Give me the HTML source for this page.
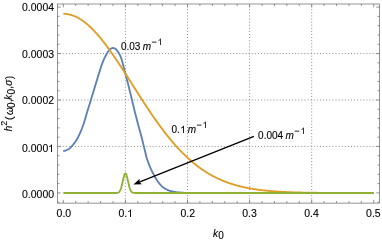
<!DOCTYPE html><html><head><meta charset="utf-8"><title>plot</title><style>html,body{margin:0;padding:0;background:#fff;width:382px;height:240px;overflow:hidden;font-family:"Liberation Sans",sans-serif}</style></head><body><svg width="382" height="240" viewBox="0 0 382 240" style="position:absolute;left:0;top:0">
<rect width="382" height="240" fill="#fff"/>
<g stroke="#666" stroke-opacity="0.72" stroke-width="1" stroke-dasharray="1.05 2.05" stroke-dashoffset="1.05" fill="none"><line x1="125.40" y1="4.0" x2="125.40" y2="203.1"/><line x1="187.50" y1="4.0" x2="187.50" y2="203.1"/><line x1="249.60" y1="4.0" x2="249.60" y2="203.1"/><line x1="311.70" y1="4.0" x2="311.70" y2="203.1"/><line x1="57.5" y1="146.45" x2="379.5" y2="146.45"/><line x1="57.5" y1="100.00" x2="379.5" y2="100.00"/><line x1="57.5" y1="53.55" x2="379.5" y2="53.55"/></g>
<g fill="none" stroke-width="1.85" stroke-linejoin="round" stroke-linecap="butt">
<path d="M63.30,151.00 L63.69,150.98 L64.08,150.93 L64.47,150.86 L64.85,150.76 L65.24,150.65 L65.63,150.51 L66.02,150.36 L66.41,150.20 L66.80,150.02 L67.19,149.83 L67.57,149.64 L67.96,149.44 L68.35,149.23 L68.74,149.02 L69.13,148.77 L69.52,148.48 L69.91,148.16 L70.29,147.79 L70.68,147.41 L71.07,147.00 L71.46,146.57 L71.85,146.13 L72.24,145.69 L72.63,145.24 L73.02,144.79 L73.40,144.33 L73.79,143.85 L74.18,143.35 L74.57,142.83 L74.96,142.29 L75.35,141.73 L75.74,141.15 L76.12,140.55 L76.51,139.94 L76.90,139.30 L77.29,138.63 L77.68,137.93 L78.07,137.20 L78.46,136.44 L78.84,135.65 L79.23,134.83 L79.62,133.99 L80.01,133.12 L80.40,132.24 L80.79,131.34 L81.18,130.42 L81.56,129.47 L81.95,128.48 L82.34,127.46 L82.73,126.40 L83.12,125.31 L83.51,124.18 L83.90,123.03 L84.28,121.83 L84.67,120.55 L85.06,119.20 L85.45,117.81 L85.84,116.45 L86.23,115.14 L86.62,113.85 L87.01,112.57 L87.39,111.30 L87.78,110.04 L88.17,108.78 L88.56,107.51 L88.95,106.24 L89.34,104.97 L89.73,103.69 L90.11,102.42 L90.50,101.15 L90.89,99.87 L91.28,98.60 L91.67,97.33 L92.06,96.06 L92.45,94.79 L92.83,93.52 L93.22,92.25 L93.61,90.98 L94.00,89.71 L94.39,88.45 L94.78,87.18 L95.17,85.91 L95.55,84.64 L95.94,83.37 L96.33,82.10 L96.72,80.83 L97.11,79.56 L97.50,78.29 L97.89,77.02 L98.27,75.76 L98.66,74.49 L99.05,73.22 L99.44,71.96 L99.83,70.71 L100.22,69.44 L100.61,68.15 L101.00,66.90 L101.38,65.71 L101.77,64.63 L102.16,63.60 L102.55,62.60 L102.94,61.64 L103.33,60.71 L103.72,59.82 L104.10,58.96 L104.49,58.13 L104.88,57.33 L105.27,56.54 L105.66,55.77 L106.05,55.02 L106.44,54.29 L106.82,53.60 L107.21,52.94 L107.60,52.32 L107.99,51.75 L108.38,51.22 L108.77,50.68 L109.16,50.17 L109.54,49.70 L109.93,49.29 L110.32,48.97 L110.71,48.75 L111.10,48.56 L111.49,48.39 L111.88,48.24 L112.26,48.12 L112.65,48.03 L113.04,48.00 L113.43,48.03 L113.82,48.11 L114.21,48.25 L114.60,48.43 L114.99,48.64 L115.37,48.86 L115.76,49.11 L116.15,49.43 L116.54,49.85 L116.93,50.33 L117.32,50.87 L117.71,51.44 L118.09,52.04 L118.48,52.65 L118.87,53.28 L119.26,53.95 L119.65,54.67 L120.04,55.44 L120.43,56.27 L120.81,57.17 L121.20,58.14 L121.59,59.26 L121.98,60.60 L122.37,62.06 L122.76,63.53 L123.15,64.98 L123.53,66.47 L123.92,67.99 L124.31,69.51 L124.70,71.04 L125.09,72.54 L125.48,74.04 L125.87,75.53 L126.25,77.02 L126.64,78.51 L127.03,80.03 L127.42,81.54 L127.81,83.07 L128.20,84.59 L128.59,86.12 L128.98,87.66 L129.36,89.21 L129.75,90.76 L130.14,92.32 L130.53,93.90 L130.92,95.49 L131.31,97.10 L131.70,98.74 L132.08,100.39 L132.47,102.04 L132.86,103.69 L133.25,105.33 L133.64,106.94 L134.03,108.52 L134.42,110.10 L134.80,111.66 L135.19,113.22 L135.58,114.76 L135.97,116.30 L136.36,117.82 L136.75,119.33 L137.14,120.83 L137.52,122.31 L137.91,123.78 L138.30,125.21 L138.69,126.62 L139.08,128.02 L139.47,129.41 L139.86,130.80 L140.24,132.21 L140.63,133.62 L141.02,135.07 L141.41,136.54 L141.80,138.06 L142.19,139.60 L142.58,141.17 L142.97,142.76 L143.35,144.35 L143.74,145.94 L144.13,147.52 L144.52,149.08 L144.91,150.66 L145.30,152.29 L145.69,153.92 L146.07,155.50 L146.46,156.98 L146.85,158.33 L147.24,159.53 L147.63,160.67 L148.02,161.78 L148.41,162.84 L148.79,163.88 L149.18,164.88 L149.57,165.85 L149.96,166.79 L150.35,167.70 L150.74,168.58 L151.13,169.44 L151.51,170.27 L151.90,171.09 L152.29,171.88 L152.68,172.66 L153.07,173.41 L153.46,174.16 L153.85,174.89 L154.23,175.60 L154.62,176.30 L155.01,176.99 L155.40,177.66 L155.79,178.32 L156.18,178.96 L156.57,179.58 L156.96,180.18 L157.34,180.77 L157.73,181.33 L158.12,181.88 L158.51,182.40 L158.90,182.90 L159.29,183.38 L159.68,183.85 L160.06,184.31 L160.45,184.75 L160.84,185.19 L161.23,185.60 L161.62,186.00 L162.01,186.38 L162.40,186.73 L162.78,187.06 L163.17,187.37 L163.56,187.64 L163.95,187.90 L164.34,188.15 L164.73,188.40 L165.12,188.63 L165.50,188.86 L165.89,189.09 L166.28,189.30 L166.67,189.50 L167.06,189.70 L167.45,189.88 L167.84,190.06 L168.22,190.22 L168.61,190.38 L169.00,190.52 L169.39,190.66 L169.78,190.78 L170.17,190.89 L170.56,190.99 L170.95,191.09 L171.33,191.19 L171.72,191.28 L172.11,191.37 L172.50,191.46 L172.89,191.55 L173.28,191.63 L173.67,191.70 L174.05,191.78 L174.44,191.85 L174.83,191.92 L175.22,191.98 L175.61,192.04 L176.00,192.10 L176.39,192.16 L176.77,192.21 L177.16,192.26 L177.55,192.30 L177.94,192.34 L178.33,192.38 L178.72,192.41 L179.11,192.44 L179.49,192.47 L179.88,192.51 L180.27,192.54 L180.66,192.57 L181.05,192.60 L181.44,192.63 L181.83,192.66 L182.21,192.68 L182.60,192.71 L182.99,192.74 L183.38,192.76 L183.77,192.79 L184.16,192.81 L184.55,192.83 L184.94,192.85 L185.32,192.87 L185.71,192.89 L186.10,192.91 L186.49,192.93 L186.88,192.94 L187.27,192.95 L187.66,192.97 L188.04,192.98 L188.43,192.98 L188.82,192.99 L189.21,193.00 L189.60,193.00 L189.99,193.00 L190.38,193.00 L190.76,193.00 L191.15,193.00 L191.54,193.00 L191.93,193.00 L192.32,193.00 L192.71,193.00 L193.10,193.00 L193.48,193.00 L193.87,193.00 L194.26,193.00 L194.65,193.00 L195.04,193.00 L195.43,193.00 L195.82,193.00 L196.20,193.00 L196.59,193.00 L196.98,193.00 L197.37,193.00 L197.76,193.00 L198.15,193.00 L198.54,193.00 L198.93,193.00 L199.31,193.00 L199.70,193.00 L200.09,193.00 L200.48,193.00 L200.87,193.00 L201.26,193.00 L201.65,193.00 L202.03,193.00 L202.42,193.00 L202.81,193.00 L203.20,193.00 L203.59,193.00 L203.98,193.00 L204.37,193.00 L204.75,193.00 L205.14,193.00 L205.53,193.00 L205.92,193.00 L206.31,193.00 L206.70,193.00 L207.09,193.00 L207.47,193.00 L207.86,193.00 L208.25,193.00 L208.64,193.00 L209.03,193.00 L209.42,193.00 L209.81,193.00 L210.19,193.00 L210.58,193.00 L210.97,193.00 L211.36,193.00 L211.75,193.00 L212.14,193.00 L212.53,193.00 L212.92,193.00 L213.30,193.00 L213.69,193.00 L214.08,193.00 L214.47,193.00 L214.86,193.00 L215.25,193.00 L215.64,193.00 L216.02,193.00 L216.41,193.00 L216.80,193.00 L217.19,193.00 L217.58,193.00 L217.97,193.00 L218.36,193.00 L218.74,193.00 L219.13,193.00 L219.52,193.00 L219.91,193.00 L220.30,193.00 L220.69,193.00 L221.08,193.00 L221.46,193.00 L221.85,193.00 L222.24,193.00 L222.63,193.00 L223.02,193.00 L223.41,193.00 L223.80,193.00 L224.18,193.00 L224.57,193.00 L224.96,193.00 L225.35,193.00 L225.74,193.00 L226.13,193.00 L226.52,193.00 L226.91,193.00 L227.29,193.00 L227.68,193.00 L228.07,193.00 L228.46,193.00 L228.85,193.00 L229.24,193.00 L229.63,193.00 L230.01,193.00 L230.40,193.00 L230.79,193.00 L231.18,193.00 L231.57,193.00 L231.96,193.00 L232.35,193.00 L232.73,193.00 L233.12,193.00 L233.51,193.00 L233.90,193.00 L234.29,193.00 L234.68,193.00 L235.07,193.00 L235.45,193.00 L235.84,193.00 L236.23,193.00 L236.62,193.00 L237.01,193.00 L237.40,193.00 L237.79,193.00 L238.17,193.00 L238.56,193.00 L238.95,193.00 L239.34,193.00 L239.73,193.00 L240.12,193.00 L240.51,193.00 L240.90,193.00 L241.28,193.00 L241.67,193.00 L242.06,193.00 L242.45,193.00 L242.84,193.00 L243.23,193.00 L243.62,193.00 L244.00,193.00 L244.39,193.00 L244.78,193.00 L245.17,193.00 L245.56,193.00 L245.95,193.00 L246.34,193.00 L246.72,193.00 L247.11,193.00 L247.50,193.00 L247.89,193.00 L248.28,193.00 L248.67,193.00 L249.06,193.00 L249.44,193.00 L249.83,193.00 L250.22,193.00 L250.61,193.00 L251.00,193.00 L251.39,193.00 L251.78,193.00 L252.16,193.00 L252.55,193.00 L252.94,193.00 L253.33,193.00 L253.72,193.00 L254.11,193.00 L254.50,193.00 L254.89,193.00 L255.27,193.00 L255.66,193.00 L256.05,193.00 L256.44,193.00 L256.83,193.00 L257.22,193.00 L257.61,193.00 L257.99,193.00 L258.38,193.00 L258.77,193.00 L259.16,193.00 L259.55,193.00 L259.94,193.00 L260.33,193.00 L260.71,193.00 L261.10,193.00 L261.49,193.00 L261.88,193.00 L262.27,193.00 L262.66,193.00 L263.05,193.00 L263.43,193.00 L263.82,193.00 L264.21,193.00 L264.60,193.00 L264.99,193.00 L265.38,193.00 L265.77,193.00 L266.15,193.00 L266.54,193.00 L266.93,193.00 L267.32,193.00 L267.71,193.00 L268.10,193.00 L268.49,193.00 L268.88,193.00 L269.26,193.00 L269.65,193.00 L270.04,193.00 L270.43,193.00 L270.82,193.00 L271.21,193.00 L271.60,193.00 L271.98,193.00 L272.37,193.00 L272.76,193.00 L273.15,193.00 L273.54,193.00 L273.93,193.00 L274.32,193.00 L274.70,193.00 L275.09,193.00 L275.48,193.00 L275.87,193.00 L276.26,193.00 L276.65,193.00 L277.04,193.00 L277.42,193.00 L277.81,193.00 L278.20,193.00 L278.59,193.00 L278.98,193.00 L279.37,193.00 L279.76,193.00 L280.14,193.00 L280.53,193.00 L280.92,193.00 L281.31,193.00 L281.70,193.00 L282.09,193.00 L282.48,193.00 L282.87,193.00 L283.25,193.00 L283.64,193.00 L284.03,193.00 L284.42,193.00 L284.81,193.00 L285.20,193.00 L285.59,193.00 L285.97,193.00 L286.36,193.00 L286.75,193.00 L287.14,193.00 L287.53,193.00 L287.92,193.00 L288.31,193.00 L288.69,193.00 L289.08,193.00 L289.47,193.00 L289.86,193.00 L290.25,193.00 L290.64,193.00 L291.03,193.00 L291.41,193.00 L291.80,193.00 L292.19,193.00 L292.58,193.00 L292.97,193.00 L293.36,193.00 L293.75,193.00 L294.13,193.00 L294.52,193.00 L294.91,193.00 L295.30,193.00 L295.69,193.00 L296.08,193.00 L296.47,193.00 L296.86,193.00 L297.24,193.00 L297.63,193.00 L298.02,193.00 L298.41,193.00 L298.80,193.00 L299.19,193.00 L299.58,193.00 L299.96,193.00 L300.35,193.00 L300.74,193.00 L301.13,193.00 L301.52,193.00 L301.91,193.00 L302.30,193.00 L302.68,193.00 L303.07,193.00 L303.46,193.00 L303.85,193.00 L304.24,193.00 L304.63,193.00 L305.02,193.00 L305.40,193.00 L305.79,193.00 L306.18,193.00 L306.57,193.00 L306.96,193.00 L307.35,193.00 L307.74,193.00 L308.12,193.00 L308.51,193.00 L308.90,193.00 L309.29,193.00 L309.68,193.00 L310.07,193.00 L310.46,193.00 L310.85,193.00 L311.23,193.00 L311.62,193.00 L312.01,193.00 L312.40,193.00 L312.79,193.00 L313.18,193.00 L313.57,193.00 L313.95,193.00 L314.34,193.00 L314.73,193.00 L315.12,193.00 L315.51,193.00 L315.90,193.00 L316.29,193.00 L316.67,193.00 L317.06,193.00 L317.45,193.00 L317.84,193.00 L318.23,193.00 L318.62,193.00 L319.01,193.00 L319.39,193.00 L319.78,193.00 L320.17,193.00 L320.56,193.00 L320.95,193.00 L321.34,193.00 L321.73,193.00 L322.11,193.00 L322.50,193.00 L322.89,193.00 L323.28,193.00 L323.67,193.00 L324.06,193.00 L324.45,193.00 L324.84,193.00 L325.22,193.00 L325.61,193.00 L326.00,193.00 L326.39,193.00 L326.78,193.00 L327.17,193.00 L327.56,193.00 L327.94,193.00 L328.33,193.00 L328.72,193.00 L329.11,193.00 L329.50,193.00 L329.89,193.00 L330.28,193.00 L330.66,193.00 L331.05,193.00 L331.44,193.00 L331.83,193.00 L332.22,193.00 L332.61,193.00 L333.00,193.00 L333.38,193.00 L333.77,193.00 L334.16,193.00 L334.55,193.00 L334.94,193.00 L335.33,193.00 L335.72,193.00 L336.10,193.00 L336.49,193.00 L336.88,193.00 L337.27,193.00 L337.66,193.00 L338.05,193.00 L338.44,193.00 L338.83,193.00 L339.21,193.00 L339.60,193.00 L339.99,193.00 L340.38,193.00 L340.77,193.00 L341.16,193.00 L341.55,193.00 L341.93,193.00 L342.32,193.00 L342.71,193.00 L343.10,193.00 L343.49,193.00 L343.88,193.00 L344.27,193.00 L344.65,193.00 L345.04,193.00 L345.43,193.00 L345.82,193.00 L346.21,193.00 L346.60,193.00 L346.99,193.00 L347.37,193.00 L347.76,193.00 L348.15,193.00 L348.54,193.00 L348.93,193.00 L349.32,193.00 L349.71,193.00 L350.09,193.00 L350.48,193.00 L350.87,193.00 L351.26,193.00 L351.65,193.00 L352.04,193.00 L352.43,193.00 L352.82,193.00 L353.20,193.00 L353.59,193.00 L353.98,193.00 L354.37,193.00 L354.76,193.00 L355.15,193.00 L355.54,193.00 L355.92,193.00 L356.31,193.00 L356.70,193.00 L357.09,193.00 L357.48,193.00 L357.87,193.00 L358.26,193.00 L358.64,193.00 L359.03,193.00 L359.42,193.00 L359.81,193.00 L360.20,193.00 L360.59,193.00 L360.98,193.00 L361.36,193.00 L361.75,193.00 L362.14,193.00 L362.53,193.00 L362.92,193.00 L363.31,193.00 L363.70,193.00 L364.08,193.00 L364.47,193.00 L364.86,193.00 L365.25,193.00 L365.64,193.00 L366.03,193.00 L366.42,193.00 L366.81,193.00 L367.19,193.00 L367.58,193.00 L367.97,193.00 L368.36,193.00 L368.75,193.00 L369.14,193.00 L369.53,193.00 L369.91,193.00 L370.30,193.00 L370.69,193.00 L371.08,193.00 L371.47,193.00 L371.86,193.00 L372.25,193.00 L372.63,193.00 L373.02,193.00 L373.41,193.00 L373.80,193.00" stroke="#5e81b5"/>
<path d="M63.30,13.80 L63.82,13.81 L64.34,13.82 L64.86,13.85 L65.37,13.88 L65.89,13.93 L66.41,13.98 L66.93,14.05 L67.45,14.12 L67.97,14.21 L68.48,14.31 L69.00,14.41 L69.52,14.53 L70.04,14.66 L70.56,14.79 L71.08,14.94 L71.59,15.09 L72.11,15.26 L72.63,15.44 L73.15,15.62 L73.67,15.82 L74.19,16.02 L74.70,16.24 L75.22,16.46 L75.74,16.70 L76.26,16.94 L76.78,17.20 L77.30,17.46 L77.81,17.73 L78.33,18.01 L78.85,18.31 L79.37,18.61 L79.89,18.92 L80.41,19.24 L80.92,19.57 L81.44,19.91 L81.96,20.25 L82.48,20.61 L83.00,20.98 L83.52,21.35 L84.03,21.73 L84.55,22.13 L85.07,22.53 L85.59,22.94 L86.11,23.35 L86.63,23.78 L87.14,24.22 L87.66,24.66 L88.18,25.11 L88.70,25.57 L89.22,26.04 L89.74,26.52 L90.25,27.00 L90.77,27.49 L91.29,27.99 L91.81,28.50 L92.33,29.02 L92.85,29.54 L93.37,30.07 L93.88,30.61 L94.40,31.16 L94.92,31.71 L95.44,32.27 L95.96,32.84 L96.48,33.41 L96.99,34.00 L97.51,34.58 L98.03,35.18 L98.55,35.78 L99.07,36.39 L99.59,37.00 L100.10,37.63 L100.62,38.25 L101.14,38.89 L101.66,39.53 L102.18,40.17 L102.70,40.82 L103.21,41.48 L103.73,42.14 L104.25,42.81 L104.77,43.49 L105.29,44.17 L105.81,44.85 L106.32,45.54 L106.84,46.24 L107.36,46.94 L107.88,47.64 L108.40,48.35 L108.92,49.07 L109.43,49.79 L109.95,50.51 L110.47,51.24 L110.99,51.97 L111.51,52.71 L112.03,53.45 L112.54,54.19 L113.06,54.94 L113.58,55.69 L114.10,56.45 L114.62,57.21 L115.14,57.97 L115.65,58.74 L116.17,59.51 L116.69,60.28 L117.21,61.05 L117.73,61.83 L118.25,62.61 L118.76,63.40 L119.28,64.18 L119.80,64.97 L120.32,65.76 L120.84,66.55 L121.36,67.35 L121.88,68.15 L122.39,68.95 L122.91,69.75 L123.43,70.55 L123.95,71.36 L124.47,72.16 L124.99,72.97 L125.50,73.78 L126.02,74.59 L126.54,75.40 L127.06,76.21 L127.58,77.03 L128.10,77.84 L128.61,78.66 L129.13,79.47 L129.65,80.29 L130.17,81.11 L130.69,81.92 L131.21,82.74 L131.72,83.56 L132.24,84.38 L132.76,85.19 L133.28,86.01 L133.80,86.83 L134.32,87.65 L134.83,88.46 L135.35,89.28 L135.87,90.09 L136.39,90.91 L136.91,91.72 L137.43,92.54 L137.94,93.35 L138.46,94.16 L138.98,94.97 L139.50,95.78 L140.02,96.59 L140.54,97.40 L141.05,98.20 L141.57,99.01 L142.09,99.81 L142.61,100.61 L143.13,101.41 L143.65,102.21 L144.16,103.00 L144.68,103.80 L145.20,104.59 L145.72,105.38 L146.24,106.17 L146.76,106.95 L147.27,107.73 L147.79,108.51 L148.31,109.29 L148.83,110.07 L149.35,110.84 L149.87,111.61 L150.39,112.38 L150.90,113.15 L151.42,113.91 L151.94,114.67 L152.46,115.42 L152.98,116.18 L153.50,116.93 L154.01,117.68 L154.53,118.42 L155.05,119.16 L155.57,119.90 L156.09,120.64 L156.61,121.37 L157.12,122.10 L157.64,122.82 L158.16,123.54 L158.68,124.26 L159.20,124.97 L159.72,125.68 L160.23,126.39 L160.75,127.09 L161.27,127.79 L161.79,128.49 L162.31,129.18 L162.83,129.87 L163.34,130.55 L163.86,131.23 L164.38,131.91 L164.90,132.58 L165.42,133.25 L165.94,133.91 L166.45,134.57 L166.97,135.23 L167.49,135.88 L168.01,136.53 L168.53,137.17 L169.05,137.81 L169.56,138.45 L170.08,139.08 L170.60,139.70 L171.12,140.33 L171.64,140.95 L172.16,141.56 L172.67,142.17 L173.19,142.77 L173.71,143.37 L174.23,143.97 L174.75,144.56 L175.27,145.15 L175.78,145.73 L176.30,146.31 L176.82,146.88 L177.34,147.45 L177.86,148.02 L178.38,148.58 L178.90,149.13 L179.41,149.69 L179.93,150.23 L180.45,150.78 L180.97,151.31 L181.49,151.85 L182.01,152.38 L182.52,152.90 L183.04,153.42 L183.56,153.93 L184.08,154.45 L184.60,154.95 L185.12,155.45 L185.63,155.95 L186.15,156.44 L186.67,156.93 L187.19,157.41 L187.71,157.89 L188.23,158.37 L188.74,158.84 L189.26,159.30 L189.78,159.77 L190.30,160.22 L190.82,160.67 L191.34,161.12 L191.85,161.57 L192.37,162.00 L192.89,162.44 L193.41,162.87 L193.93,163.30 L194.45,163.72 L194.96,164.13 L195.48,164.55 L196.00,164.96 L196.52,165.36 L197.04,165.76 L197.56,166.16 L198.07,166.55 L198.59,166.93 L199.11,167.32 L199.63,167.70 L200.15,168.07 L200.67,168.44 L201.18,168.81 L201.70,169.17 L202.22,169.53 L202.74,169.88 L203.26,170.23 L203.78,170.58 L204.29,170.92 L204.81,171.26 L205.33,171.59 L205.85,171.92 L206.37,172.25 L206.89,172.57 L207.41,172.89 L207.92,173.20 L208.44,173.51 L208.96,173.82 L209.48,174.12 L210.00,174.42 L210.52,174.72 L211.03,175.01 L211.55,175.30 L212.07,175.58 L212.59,175.87 L213.11,176.14 L213.63,176.42 L214.14,176.69 L214.66,176.95 L215.18,177.22 L215.70,177.48 L216.22,177.73 L216.74,177.99 L217.25,178.24 L217.77,178.48 L218.29,178.73 L218.81,178.97 L219.33,179.20 L219.85,179.44 L220.36,179.67 L220.88,179.89 L221.40,180.12 L221.92,180.34 L222.44,180.56 L222.96,180.77 L223.47,180.98 L223.99,181.19 L224.51,181.40 L225.03,181.60 L225.55,181.80 L226.07,182.00 L226.58,182.19 L227.10,182.38 L227.62,182.57 L228.14,182.76 L228.66,182.94 L229.18,183.12 L229.69,183.30 L230.21,183.47 L230.73,183.64 L231.25,183.81 L231.77,183.98 L232.29,184.15 L232.81,184.31 L233.32,184.47 L233.84,184.63 L234.36,184.78 L234.88,184.93 L235.40,185.08 L235.92,185.23 L236.43,185.38 L236.95,185.52 L237.47,185.66 L237.99,185.80 L238.51,185.93 L239.03,186.07 L239.54,186.20 L240.06,186.33 L240.58,186.46 L241.10,186.58 L241.62,186.71 L242.14,186.83 L242.65,186.95 L243.17,187.07 L243.69,187.18 L244.21,187.29 L244.73,187.41 L245.25,187.52 L245.76,187.62 L246.28,187.73 L246.80,187.83 L247.32,187.94 L247.84,188.04 L248.36,188.14 L248.87,188.23 L249.39,188.33 L249.91,188.42 L250.43,188.52 L250.95,188.61 L251.47,188.70 L251.98,188.78 L252.50,188.87 L253.02,188.96 L253.54,189.04 L254.06,189.12 L254.58,189.20 L255.09,189.28 L255.61,189.36 L256.13,189.43 L256.65,189.51 L257.17,189.58 L257.69,189.65 L258.20,189.72 L258.72,189.79 L259.24,189.86 L259.76,189.92 L260.28,189.99 L260.80,190.05 L261.32,190.12 L261.83,190.18 L262.35,190.24 L262.87,190.30 L263.39,190.36 L263.91,190.41 L264.43,190.47 L264.94,190.53 L265.46,190.58 L265.98,190.63 L266.50,190.68 L267.02,190.74 L267.54,190.79 L268.05,190.83 L268.57,190.88 L269.09,190.93 L269.61,190.98 L270.13,191.02 L270.65,191.06 L271.16,191.11 L271.68,191.15 L272.20,191.19 L272.72,191.23 L273.24,191.27 L273.76,191.31 L274.27,191.35 L274.79,191.39 L275.31,191.42 L275.83,191.46 L276.35,191.50 L276.87,191.53 L277.38,191.56 L277.90,191.60 L278.42,191.63 L278.94,191.66 L279.46,191.69 L279.98,191.72 L280.49,191.75 L281.01,191.78 L281.53,191.81 L282.05,191.84 L282.57,191.87 L283.09,191.89 L283.60,191.92 L284.12,191.95 L284.64,191.97 L285.16,192.00 L285.68,192.02 L286.20,192.04 L286.71,192.07 L287.23,192.09 L287.75,192.11 L288.27,192.13 L288.79,192.15 L289.31,192.17 L289.83,192.19 L290.34,192.21 L290.86,192.23 L291.38,192.25 L291.90,192.27 L292.42,192.29 L292.94,192.31 L293.45,192.32 L293.97,192.34 L294.49,192.36 L295.01,192.37 L295.53,192.39 L296.05,192.40 L296.56,192.42 L297.08,192.43 L297.60,192.45 L298.12,192.46 L298.64,192.48 L299.16,192.49 L299.67,192.50 L300.19,192.51 L300.71,192.53 L301.23,192.54 L301.75,192.55 L302.27,192.56 L302.78,192.57 L303.30,192.58 L303.82,192.60 L304.34,192.61 L304.86,192.62 L305.38,192.63 L305.89,192.64 L306.41,192.65 L306.93,192.65 L307.45,192.66 L307.97,192.67 L308.49,192.68 L309.00,192.69 L309.52,192.70 L310.04,192.71 L310.56,192.71 L311.08,192.72 L311.60,192.73 L312.11,192.74 L312.63,192.74 L313.15,192.75 L313.67,192.76 L314.19,192.76 L314.71,192.77 L315.22,192.78 L315.74,192.78 L316.26,192.79 L316.78,192.79 L317.30,192.80 L317.82,192.80 L318.34,192.81 L318.85,192.82 L319.37,192.82 L319.89,192.83 L320.41,192.83 L320.93,192.84 L321.45,192.84 L321.96,192.84 L322.48,192.85 L323.00,192.85 L323.52,192.86 L324.04,192.86 L324.56,192.86 L325.07,192.87 L325.59,192.87 L326.11,192.88 L326.63,192.88 L327.15,192.88 L327.67,192.89 L328.18,192.89 L328.70,192.89 L329.22,192.90 L329.74,192.90 L330.26,192.90 L330.78,192.90 L331.29,192.91 L331.81,192.91 L332.33,192.91 L332.85,192.91 L333.37,192.92 L333.89,192.92 L334.40,192.92 L334.92,192.92 L335.44,192.93 L335.96,192.93 L336.48,192.93 L337.00,192.93 L337.51,192.93 L338.03,192.94 L338.55,192.94 L339.07,192.94 L339.59,192.94 L340.11,192.94 L340.62,192.95 L341.14,192.95 L341.66,192.95 L342.18,192.95 L342.70,192.95 L343.22,192.95 L343.73,192.95 L344.25,192.96 L344.77,192.96 L345.29,192.96 L345.81,192.96 L346.33,192.96 L346.85,192.96 L347.36,192.96 L347.88,192.96 L348.40,192.97 L348.92,192.97 L349.44,192.97 L349.96,192.97 L350.47,192.97 L350.99,192.97 L351.51,192.97 L352.03,192.97 L352.55,192.97 L353.07,192.97 L353.58,192.97 L354.10,192.98 L354.62,192.98 L355.14,192.98 L355.66,192.98 L356.18,192.98 L356.69,192.98 L357.21,192.98 L357.73,192.98 L358.25,192.98 L358.77,192.98 L359.29,192.98 L359.80,192.98 L360.32,192.98 L360.84,192.98 L361.36,192.98 L361.88,192.99 L362.40,192.99 L362.91,192.99 L363.43,192.99 L363.95,192.99 L364.47,192.99 L364.99,192.99 L365.51,192.99 L366.02,192.99 L366.54,192.99 L367.06,192.99 L367.58,192.99 L368.10,192.99 L368.62,192.99 L369.13,192.99 L369.65,192.99 L370.17,192.99 L370.69,192.99 L371.21,192.99 L371.73,192.99 L372.24,192.99 L372.76,192.99 L373.28,192.99 L373.80,192.99" stroke="#e19c24"/>
<path d="M63.30,193.00 L75.72,193.00 L88.14,193.00 L100.56,193.00 L112.98,193.00 L112.98,193.00 L113.19,193.00 L113.40,193.00 L113.61,193.00 L113.81,193.00 L114.02,193.00 L114.23,193.00 L114.44,193.00 L114.65,193.00 L114.86,192.99 L115.07,192.99 L115.28,192.99 L115.48,192.99 L115.69,192.98 L115.90,192.97 L116.11,192.97 L116.32,192.95 L116.53,192.94 L116.74,192.92 L116.95,192.90 L117.15,192.87 L117.36,192.83 L117.57,192.78 L117.78,192.73 L117.99,192.65 L118.20,192.57 L118.41,192.46 L118.62,192.34 L118.82,192.19 L119.03,192.01 L119.24,191.80 L119.45,191.55 L119.66,191.26 L119.87,190.94 L120.08,190.56 L120.29,190.14 L120.49,189.67 L120.70,189.14 L120.91,188.55 L121.12,187.91 L121.33,187.22 L121.54,186.47 L121.75,185.67 L121.96,184.83 L122.16,183.94 L122.37,183.03 L122.58,182.09 L122.79,181.15 L123.00,180.20 L123.21,179.27 L123.42,178.36 L123.63,177.49 L123.83,176.67 L124.04,175.92 L124.25,175.26 L124.46,174.68 L124.67,174.20 L124.88,173.84 L125.09,173.59 L125.30,173.47 L125.50,173.47 L125.71,173.59 L125.92,173.84 L126.13,174.20 L126.34,174.68 L126.55,175.26 L126.76,175.92 L126.97,176.67 L127.17,177.49 L127.38,178.36 L127.59,179.27 L127.80,180.20 L128.01,181.15 L128.22,182.09 L128.43,183.03 L128.64,183.94 L128.84,184.83 L129.05,185.67 L129.26,186.47 L129.47,187.22 L129.68,187.91 L129.89,188.55 L130.10,189.14 L130.31,189.67 L130.51,190.14 L130.72,190.56 L130.93,190.94 L131.14,191.26 L131.35,191.55 L131.56,191.80 L131.77,192.01 L131.98,192.19 L132.18,192.34 L132.39,192.46 L132.60,192.57 L132.81,192.65 L133.02,192.73 L133.23,192.78 L133.44,192.83 L133.65,192.87 L133.85,192.90 L134.06,192.92 L134.27,192.94 L134.48,192.95 L134.69,192.97 L134.90,192.97 L135.11,192.98 L135.32,192.99 L135.52,192.99 L135.73,192.99 L135.94,192.99 L136.15,193.00 L136.36,193.00 L136.57,193.00 L136.78,193.00 L136.99,193.00 L137.19,193.00 L137.40,193.00 L137.61,193.00 L137.82,193.00 L137.82,193.00 L196.81,193.00 L255.81,193.00 L314.81,193.00 L373.80,193.00" stroke="#8fb032"/>
</g>
<g stroke="#666" stroke-width="0.7" fill="none"><rect x="57.5" y="4.0" width="322.0" height="199.1"/><line x1="63.30" y1="203.1" x2="63.30" y2="199.79999999999998"/><line x1="63.30" y1="4.0" x2="63.30" y2="7.3"/><line x1="75.72" y1="203.1" x2="75.72" y2="201.1"/><line x1="75.72" y1="4.0" x2="75.72" y2="6.0"/><line x1="88.14" y1="203.1" x2="88.14" y2="201.1"/><line x1="88.14" y1="4.0" x2="88.14" y2="6.0"/><line x1="100.56" y1="203.1" x2="100.56" y2="201.1"/><line x1="100.56" y1="4.0" x2="100.56" y2="6.0"/><line x1="112.98" y1="203.1" x2="112.98" y2="201.1"/><line x1="112.98" y1="4.0" x2="112.98" y2="6.0"/><line x1="125.40" y1="203.1" x2="125.40" y2="199.79999999999998"/><line x1="125.40" y1="4.0" x2="125.40" y2="7.3"/><line x1="137.82" y1="203.1" x2="137.82" y2="201.1"/><line x1="137.82" y1="4.0" x2="137.82" y2="6.0"/><line x1="150.24" y1="203.1" x2="150.24" y2="201.1"/><line x1="150.24" y1="4.0" x2="150.24" y2="6.0"/><line x1="162.66" y1="203.1" x2="162.66" y2="201.1"/><line x1="162.66" y1="4.0" x2="162.66" y2="6.0"/><line x1="175.08" y1="203.1" x2="175.08" y2="201.1"/><line x1="175.08" y1="4.0" x2="175.08" y2="6.0"/><line x1="187.50" y1="203.1" x2="187.50" y2="199.79999999999998"/><line x1="187.50" y1="4.0" x2="187.50" y2="7.3"/><line x1="199.92" y1="203.1" x2="199.92" y2="201.1"/><line x1="199.92" y1="4.0" x2="199.92" y2="6.0"/><line x1="212.34" y1="203.1" x2="212.34" y2="201.1"/><line x1="212.34" y1="4.0" x2="212.34" y2="6.0"/><line x1="224.76" y1="203.1" x2="224.76" y2="201.1"/><line x1="224.76" y1="4.0" x2="224.76" y2="6.0"/><line x1="237.18" y1="203.1" x2="237.18" y2="201.1"/><line x1="237.18" y1="4.0" x2="237.18" y2="6.0"/><line x1="249.60" y1="203.1" x2="249.60" y2="199.79999999999998"/><line x1="249.60" y1="4.0" x2="249.60" y2="7.3"/><line x1="262.02" y1="203.1" x2="262.02" y2="201.1"/><line x1="262.02" y1="4.0" x2="262.02" y2="6.0"/><line x1="274.44" y1="203.1" x2="274.44" y2="201.1"/><line x1="274.44" y1="4.0" x2="274.44" y2="6.0"/><line x1="286.86" y1="203.1" x2="286.86" y2="201.1"/><line x1="286.86" y1="4.0" x2="286.86" y2="6.0"/><line x1="299.28" y1="203.1" x2="299.28" y2="201.1"/><line x1="299.28" y1="4.0" x2="299.28" y2="6.0"/><line x1="311.70" y1="203.1" x2="311.70" y2="199.79999999999998"/><line x1="311.70" y1="4.0" x2="311.70" y2="7.3"/><line x1="324.12" y1="203.1" x2="324.12" y2="201.1"/><line x1="324.12" y1="4.0" x2="324.12" y2="6.0"/><line x1="336.54" y1="203.1" x2="336.54" y2="201.1"/><line x1="336.54" y1="4.0" x2="336.54" y2="6.0"/><line x1="348.96" y1="203.1" x2="348.96" y2="201.1"/><line x1="348.96" y1="4.0" x2="348.96" y2="6.0"/><line x1="361.38" y1="203.1" x2="361.38" y2="201.1"/><line x1="361.38" y1="4.0" x2="361.38" y2="6.0"/><line x1="373.80" y1="203.1" x2="373.80" y2="199.79999999999998"/><line x1="373.80" y1="4.0" x2="373.80" y2="7.3"/><line x1="57.5" y1="202.19" x2="59.5" y2="202.19"/><line x1="379.5" y1="202.19" x2="377.5" y2="202.19"/><line x1="57.5" y1="192.90" x2="60.8" y2="192.90"/><line x1="379.5" y1="192.90" x2="376.2" y2="192.90"/><line x1="57.5" y1="183.61" x2="59.5" y2="183.61"/><line x1="379.5" y1="183.61" x2="377.5" y2="183.61"/><line x1="57.5" y1="174.32" x2="59.5" y2="174.32"/><line x1="379.5" y1="174.32" x2="377.5" y2="174.32"/><line x1="57.5" y1="165.03" x2="59.5" y2="165.03"/><line x1="379.5" y1="165.03" x2="377.5" y2="165.03"/><line x1="57.5" y1="155.74" x2="59.5" y2="155.74"/><line x1="379.5" y1="155.74" x2="377.5" y2="155.74"/><line x1="57.5" y1="146.45" x2="60.8" y2="146.45"/><line x1="379.5" y1="146.45" x2="376.2" y2="146.45"/><line x1="57.5" y1="137.16" x2="59.5" y2="137.16"/><line x1="379.5" y1="137.16" x2="377.5" y2="137.16"/><line x1="57.5" y1="127.87" x2="59.5" y2="127.87"/><line x1="379.5" y1="127.87" x2="377.5" y2="127.87"/><line x1="57.5" y1="118.58" x2="59.5" y2="118.58"/><line x1="379.5" y1="118.58" x2="377.5" y2="118.58"/><line x1="57.5" y1="109.29" x2="59.5" y2="109.29"/><line x1="379.5" y1="109.29" x2="377.5" y2="109.29"/><line x1="57.5" y1="100.00" x2="60.8" y2="100.00"/><line x1="379.5" y1="100.00" x2="376.2" y2="100.00"/><line x1="57.5" y1="90.71" x2="59.5" y2="90.71"/><line x1="379.5" y1="90.71" x2="377.5" y2="90.71"/><line x1="57.5" y1="81.42" x2="59.5" y2="81.42"/><line x1="379.5" y1="81.42" x2="377.5" y2="81.42"/><line x1="57.5" y1="72.13" x2="59.5" y2="72.13"/><line x1="379.5" y1="72.13" x2="377.5" y2="72.13"/><line x1="57.5" y1="62.84" x2="59.5" y2="62.84"/><line x1="379.5" y1="62.84" x2="377.5" y2="62.84"/><line x1="57.5" y1="53.55" x2="60.8" y2="53.55"/><line x1="379.5" y1="53.55" x2="376.2" y2="53.55"/><line x1="57.5" y1="44.26" x2="59.5" y2="44.26"/><line x1="379.5" y1="44.26" x2="377.5" y2="44.26"/><line x1="57.5" y1="34.97" x2="59.5" y2="34.97"/><line x1="379.5" y1="34.97" x2="377.5" y2="34.97"/><line x1="57.5" y1="25.68" x2="59.5" y2="25.68"/><line x1="379.5" y1="25.68" x2="377.5" y2="25.68"/><line x1="57.5" y1="16.39" x2="59.5" y2="16.39"/><line x1="379.5" y1="16.39" x2="377.5" y2="16.39"/><line x1="57.5" y1="7.10" x2="60.8" y2="7.10"/><line x1="379.5" y1="7.10" x2="376.2" y2="7.10"/></g>
<line x1="253.9" y1="136.3" x2="139.25" y2="182.06" stroke="#000" stroke-width="1.3"/>
<path d="M133.40,184.40 L139.75,178.74 L139.25,182.06 L141.91,184.13 Z" fill="#000"/>
<g font-family="'Liberation Sans', sans-serif" font-size="10" fill="#000" stroke="#000" stroke-width="0.12" style="will-change:opacity"><text x="54.0" y="197.70" text-anchor="end" font-size="10.45">0.0000</text><text x="48.19" y="151.65" text-anchor="end" font-size="10.45">0.000</text><path d="M373,0H285V560Q253,530 202,500Q151,470 110,455V540Q183,574 238,623Q292,672 315,718H373Z" transform="translate(48.04,152.00) scale(0.01045,-0.01045)" stroke="none"/><text x="54.0" y="104.20" text-anchor="end" font-size="10.45">0.0002</text><text x="54.0" y="57.75" text-anchor="end" font-size="10.45">0.0003</text><text x="54.0" y="11.30" text-anchor="end" font-size="10.45">0.0004</text><text x="63.90" y="217.1" text-anchor="middle" font-size="10.5">0.0</text><text x="118.50" y="217.1" font-size="10.5">0.</text><path d="M373,0H285V560Q253,530 202,500Q151,470 110,455V540Q183,574 238,623Q292,672 315,718H373Z" transform="translate(127.03,217.00) scale(0.01050,-0.01050)" stroke="none"/><text x="187.70" y="217.1" text-anchor="middle" font-size="10.5">0.2</text><text x="249.60" y="217.1" text-anchor="middle" font-size="10.5">0.3</text><text x="311.50" y="217.1" text-anchor="middle" font-size="10.5">0.4</text><text x="373.40" y="217.1" text-anchor="middle" font-size="10.5">0.5</text><text x="120.9" y="50.2">0.03</text><text x="142.76" y="50.2" font-style="italic">m</text><text x="151.59" y="44.70" font-size="9">−</text><path d="M373,0H285V560Q253,530 202,500Q151,470 110,455V540Q183,574 238,623Q292,672 315,718H373Z" transform="translate(157.46,45.00) scale(0.00900,-0.00900)" stroke="none"/><text x="171.4" y="133.1">0.</text><path d="M373,0H285V560Q253,530 202,500Q151,470 110,455V540Q183,574 238,623Q292,672 315,718H373Z" transform="translate(180.17,133.00) scale(0.01000,-0.01000)" stroke="none"/><text x="187.70" y="133.1" font-style="italic">m</text><text x="196.53" y="127.60" font-size="9">−</text><path d="M373,0H285V560Q253,530 202,500Q151,470 110,455V540Q183,574 238,623Q292,672 315,718H373Z" transform="translate(202.46,128.00) scale(0.00900,-0.00900)" stroke="none"/><text x="258.1" y="139.1">0.004</text><text x="285.52" y="139.1" font-style="italic">m</text><text x="294.35" y="133.60" font-size="9">−</text><path d="M373,0H285V560Q253,530 202,500Q151,470 110,455V540Q183,574 238,623Q292,672 315,718H373Z" transform="translate(300.45,134.00) scale(0.00900,-0.00900)" stroke="none"/><text x="213" y="236.7" font-style="italic">k<tspan dy="2.0" dx="0.2" font-size="10" font-style="normal">0</tspan></text><g transform="translate(12.0,131) rotate(-90)"><text x="-0.3" y="0" font-size="10" font-style="italic">h</text><text x="5.3" y="-5.4" font-size="9">2</text><text x="11.1" y="0.6" font-size="10.4">(</text><text x="15.9" y="0.5" font-size="10" font-style="italic">ω</text><text x="23.1" y="2.6" font-size="10">0</text><text x="28.9" y="0.4" font-size="10">,</text><text x="31.3" y="0.3" font-size="10" font-style="italic">k</text><text x="36.4" y="2.6" font-size="10">0</text><text x="42.3" y="0.4" font-size="10">,</text><text x="45.3" y="0.3" font-size="10" font-style="italic">σ</text><text x="51.8" y="0.6" font-size="10.4">)</text></g></g>
</svg></body></html>
